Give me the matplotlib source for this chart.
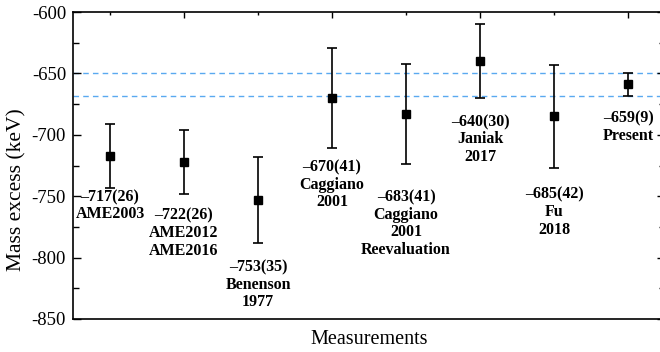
import numpy as np
import matplotlib
matplotlib.use("Agg")
import matplotlib.pyplot as plt
from matplotlib.ticker import MultipleLocator

# values (keV)
names = ["AME2003", "AME2012\nAME2016", "Benenson\n1977", "Caggiano\n2001",
         "Caggiano\n2001\nReevaluation", "Janiak\n2017", "Fu\n2018", "Present"]
mass_excess = [-717, -722, -753, -670, -683, -640, -685, -659]
errors = [26, 26, 35, 41, 41, 30, 42, 9]

plt.rcParams['font.family'] = ['Liberation Serif', 'DejaVu Serif']
plt.rcParams['axes.unicode_minus'] = False

fig = plt.figure(figsize=(6.6, 3.52), dpi=100)
ax = fig.add_axes([0.1106, 0.0938, 0.897, 0.872])

x = np.arange(1, len(mass_excess) + 1)
y = np.array(mass_excess)
e = np.array(errors)

# band of the present result
ax.axhline(y[-1] + e[-1], color='#5aa9f0', lw=1.0, ls=(0, (4, 3)), zorder=1)
ax.axhline(y[-1] - e[-1], color='#5aa9f0', lw=1.0, ls=(0, (4, 3)), zorder=1)

ax.errorbar(x, y, yerr=e, fmt='s', color='black', ms=5.5, elinewidth=1.2,
            capsize=3.3, capthick=1.2, zorder=3)

# label offsets below lower error bar (points)
label_dy = [1, 10, 12, 8, 18, 11.5, 13.5, 10.5]
for xi, yi, ei, name, dy in zip(x, y, e, names, label_dy):
    txt = "\u2013%d(%d)\n%s" % (abs(yi), ei, name)
    ax.annotate(txt, (xi, yi - ei), xytext=(0, -dy), textcoords='offset points',
                ha='center', va='top', fontsize=11.5, fontweight='bold',
                linespacing=1.12)

ax.set_xlim(0.5, 8.5)
ax.set_ylim(-850, -600)
ax.yaxis.set_major_locator(MultipleLocator(50))
ax.yaxis.set_minor_locator(MultipleLocator(25))
ax.xaxis.set_major_locator(MultipleLocator(2))
ax.xaxis.set_minor_locator(MultipleLocator(1))
ax.tick_params(axis='y', which='both', direction='in', left=True, right=True,
               labelsize=13.5, pad=5)
ax.tick_params(axis='y', which='major', length=6, width=1.0)
ax.tick_params(axis='y', which='minor', length=4, width=1.0)
ax.tick_params(axis='x', which='both', direction='in', top=True, bottom=False,
               labelbottom=False)
ax.tick_params(axis='x', which='major', length=4, width=1.0)
ax.tick_params(axis='x', which='minor', length=2.5, width=1.0)
for s in ax.spines.values():
    s.set_linewidth(1.2)

ax.set_xlabel("Measurements", fontsize=14.5, labelpad=8)
ax.set_ylabel("Mass excess (keV)", fontsize=15.5)
ax.yaxis.set_label_coords(-0.078, 0.42)

fig.savefig("out.png", dpi=100)
